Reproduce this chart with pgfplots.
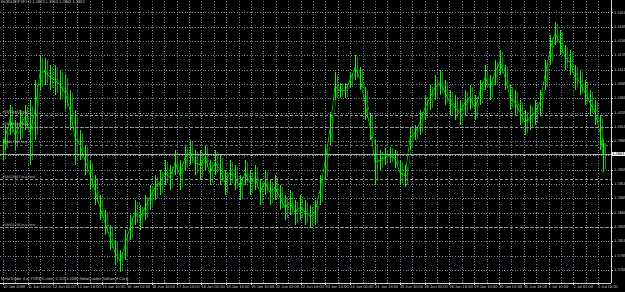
\documentclass[border=0pt]{standalone}
\usepackage{fontspec}
\setmainfont{Liberation Sans}
\usepackage{pgfplots}
\usepackage{pgfplotstable}
\pgfplotsset{compat=1.18}
\definecolor{mtgreen}{RGB}{0,255,0}
\definecolor{mtdark}{RGB}{0,150,0}
\definecolor{mtgrid}{RGB}{119,136,153}
\definecolor{orderc}{RGB}{140,160,140}
\definecolor{labc}{RGB}{215,215,215}
\definecolor{bidc}{RGB}{170,170,170}

\pgfplotstableread{
x hi lo
3 1.3987 1.3952
5 1.4014 1.3970
10 1.4049 1.3996
15 1.4022 1.3970
20 1.4040 1.3987
25 1.4049 1.4005
30 1.4057 1.3944
35 1.4092 1.3987
40 1.4136 1.4075
45 1.4131 1.4084
50 1.4119 1.4075
55 1.4119 1.4066
60 1.4110 1.4057
65 1.4101 1.4040
70 1.4075 1.4005
75 1.4040 1.3944
80 1.4005 1.3952
85 1.3979 1.3926
90 1.3952 1.3900
95 1.3926 1.3874
100 1.3891 1.3848
105 1.3865 1.3821
110 1.3839 1.3795
115 1.3813 1.3769
120 1.3795 1.3757
125 1.3830 1.3778
130 1.3856 1.3813
135 1.3883 1.3839
140 1.3874 1.3830
145 1.3891 1.3848
150 1.3909 1.3865
155 1.3926 1.3883
160 1.3935 1.3891
165 1.3952 1.3909
170 1.3944 1.3900
175 1.3970 1.3926
180 1.3952 1.3900
185 1.3979 1.3935
190 1.3987 1.3944
195 1.3970 1.3926
200 1.3970 1.3918
205 1.3979 1.3935
210 1.3952 1.3909
215 1.3970 1.3926
220 1.3961 1.3909
225 1.3935 1.3891
230 1.3952 1.3909
235 1.3944 1.3900
240 1.3926 1.3883
245 1.3952 1.3909
250 1.3935 1.3891
255 1.3944 1.3900
260 1.3918 1.3874
265 1.3935 1.3891
270 1.3918 1.3874
275 1.3926 1.3883
280 1.3909 1.3865
285 1.3891 1.3848
290 1.3900 1.3856
295 1.3883 1.3839
300 1.3891 1.3848
305 1.3883 1.3839
310 1.3874 1.3834
315 1.3883 1.3839
320 1.3926 1.3874
325 1.3979 1.3918
330 1.4036 1.3979
335 1.4106 1.4057
340 1.4087 1.4061
345 1.4087 1.4061
350 1.4106 1.4078
355 1.4136 1.4092
360 1.4115 1.4075
365 1.4080 1.4022
370 1.4035 1.3987
375 1.3987 1.3909
380 1.3970 1.3935
385 1.3973 1.3944
390 1.3975 1.3947
395 1.3970 1.3939
400 1.3952 1.3909
405 1.3944 1.3905
410 1.4010 1.3970
415 1.4014 1.3987
420 1.4040 1.3996
425 1.4066 1.4022
430 1.4084 1.4040
435 1.4101 1.4057
440 1.4110 1.4066
445 1.4092 1.4049
450 1.4075 1.4031
455 1.4066 1.4022
460 1.4057 1.4014
465 1.4075 1.4031
470 1.4084 1.4040
475 1.4066 1.4022
480 1.4092 1.4049
485 1.4119 1.4075
490 1.4101 1.4057
495 1.4127 1.4084
500 1.4145 1.4101
505 1.4119 1.4075
510 1.4084 1.4040
515 1.4075 1.4031
520 1.4057 1.4014
525 1.4040 1.3996
530 1.4049 1.4005
535 1.4057 1.4014
540 1.4075 1.4031
545 1.4127 1.4075
550 1.4171 1.4119
555 1.4194 1.4154
560 1.4180 1.4136
565 1.4154 1.4110
570 1.4145 1.4101
575 1.4119 1.4075
580 1.4110 1.4066
585 1.4092 1.4049
590 1.4075 1.4031
595 1.4057 1.4014
600 1.4031 1.3970
603 1.3987 1.3932
}\pricedata

\begin{document}
\begin{tikzpicture}
\useasboundingbox (0,0) rectangle (625pt,292pt);
\fill[black] (0,0) rectangle (625pt,292pt);
\begin{axis}[
  at={(0pt,9pt)}, anchor=south west,
  scale only axis, width=611pt, height=283pt,
  xmin=0, xmax=611, ymin=1.37374, ymax=1.42322,
  axis x line=bottom, axis y line=right,
  axis line style={labc, -, line width=0.6pt},
  tick align=outside, major tick length=2pt, minor tick length=0pt,
  tick style={labc, line width=0.5pt},
  xtick={3.2,28,52.8,77.6,102.4,127.2,152,176.8,201.6,226.4,251.2,276,300.8,325.6,350.4,375.2,400,424.8,449.6,474.4,499.2,524,548.8,573.6,598.4},
  xticklabels={10 Jun 2009,11 Jun 10:00,12 Jun 02:00,12 Jun 18:00,15 Jun 10:00,16 Jun 02:00,16 Jun 18:00,17 Jun 10:00,18 Jun 02:00,18 Jun 18:00,19 Jun 10:00,22 Jun 02:00,22 Jun 18:00,23 Jun 10:00,24 Jun 02:00,24 Jun 18:00,25 Jun 10:00,26 Jun 02:00,26 Jun 18:00,29 Jun 10:00,30 Jun 02:00,30 Jun 18:00,1 Jul 10:00,2 Jul 02:00,2 Jul 18:00},
  minor x tick num=1,
  ytick={1.3735,1.3760,1.3785,1.3810,1.3835,1.3860,1.3885,1.3910,1.3935,1.3960,1.3985,1.4010,1.4035,1.4060,1.4085,1.4110,1.4135,1.4160,1.4185,1.4210},
  yticklabels={1.3735,1.3760,1.3785,1.3810,1.3835,1.3860,1.3885,1.3910,1.3935,,1.3985,1.4010,1.4035,1.4060,1.4085,1.4110,1.4135,1.4160,1.4185,1.4210},
  xmajorgrids, xminorgrids, ymajorgrids,
  major grid style={mtgrid, line width=0.5pt, dash pattern=on 0.8pt off 1.8pt},
  minor grid style={mtgrid, line width=0.5pt, dash pattern=on 0.8pt off 1.8pt},
  xticklabel style={anchor=north west, xshift=-1pt, inner sep=0.8pt, text=labc, font=\fontsize{4}{4.5}\selectfont},
  yticklabel style={anchor=west, inner sep=1pt, text=labc, font=\fontsize{4}{4.5}\selectfont},
]
% price bars
\addplot[mtdark, line width=0.5pt, mark=none, error bars/.cd, y dir=both, y explicit, error mark=none,
  error bar style={mtdark, line width=0.7pt}]
  table[x expr=\thisrow{x}+2.5, y expr=(\thisrow{hi}+\thisrow{lo})/2, y error expr=(\thisrow{hi}-\thisrow{lo})/2.4] \pricedata;
\addplot[mtgreen, line width=0.5pt, mark=none, error bars/.cd, y dir=both, y explicit, error mark=none,
  error bar style={mtgreen, line width=0.8pt}]
  table[x=x, y expr=(\thisrow{hi}+\thisrow{lo})/2, y error expr=(\thisrow{hi}-\thisrow{lo})/2] \pricedata;
% order lines
\addplot[orderc, line width=0.5pt, dash pattern=on 3pt off 2pt] coordinates {(0,1.4031) (611,1.4031)};
\addplot[orderc, line width=0.5pt, dash pattern=on 3pt off 2pt] coordinates {(0,1.4010) (611,1.4010)};
\addplot[orderc!70!black, line width=0.5pt, dash pattern=on 3pt off 2pt] coordinates {(0,1.3979) (611,1.3979)};
\addplot[orderc, line width=0.5pt, dash pattern=on 3pt off 2pt] coordinates {(0,1.3918) (611,1.3918)};
\addplot[orderc, line width=0.5pt, dash pattern=on 3pt off 2pt] coordinates {(0,1.3834) (611,1.3834)};
% bid line
\addplot[bidc, line width=0.5pt] coordinates {(0,1.3963) (611,1.3963)};
% texts
\node[anchor=north west, text=labc, inner sep=1pt, font=\fontsize{4}{4.5}\selectfont] at (rel axis cs:0,1) {EURUSDFXF,H1 1.3963 1.3963 1.3962 1.3962};
\node[anchor=south west, text=labc, inner sep=1pt, font=\fontsize{4}{4.5}\selectfont] at (rel axis cs:0,0) {MetaTrader 4 at FOREX.com, © 2001-2009 MetaQuotes Software Corp.};
\node[anchor=south west, text=labc, inner sep=0.5pt, font=\fontsize{3.6}{4}\selectfont] at (axis cs:2,1.4031) {\#58514467 buy};
\node[anchor=south west, text=labc, inner sep=0.5pt, font=\fontsize{3.6}{4}\selectfont] at (axis cs:2,1.4010) {\#59174464 buy};
\node[anchor=south west, text=labc, inner sep=0.5pt, font=\fontsize{3.6}{4}\selectfont] at (axis cs:2,1.3979) {\#58417343 buy};
\node[anchor=south west, text=labc, inner sep=0.5pt, font=\fontsize{3.6}{4}\selectfont] at (axis cs:2,1.3918) {\#58523567 buy limit};
\node[anchor=south west, text=labc, inner sep=0.5pt, font=\fontsize{3.6}{4}\selectfont] at (axis cs:2,1.3834) {\#58601236 buy limit};
\end{axis}
\node[anchor=west, fill=white, text=black, inner sep=0.7pt, font=\fontsize{4}{4.5}\selectfont] at (611.5pt,{9pt+(1.3963-1.37374)/(1.42322-1.37374)*283pt}) {1.3963};
\end{tikzpicture}
\end{document}
